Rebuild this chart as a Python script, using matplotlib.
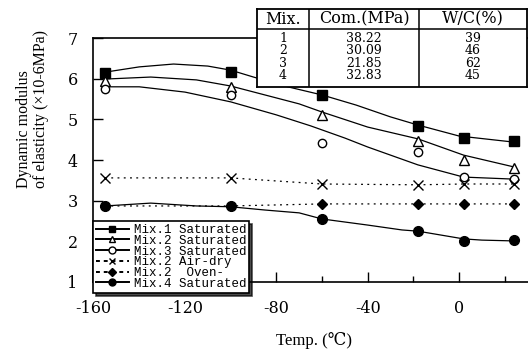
import matplotlib
matplotlib.use("Agg")
import matplotlib.pyplot as plt
from matplotlib.lines import Line2D

plt.rcParams['axes.unicode_minus'] = False

# measured points (temperature in C, modulus)
temps = [-155, -100, -60, -18, 2, 24]
mix1_sat = [6.14, 6.16, 5.60, 4.84, 4.54, 4.47]
mix2_sat = [5.94, 5.80, 5.11, 4.47, 4.00, 3.80]
mix3_sat = [5.75, 5.60, 4.42, 4.20, 3.58, 3.53]
mix2_air = [3.56, 3.56, 3.41, 3.39, 3.41, 3.41]
mix2_oven = [2.87, 2.87, 2.92, 2.92, 2.92, 2.92]
mix4_sat = [2.87, 2.87, 2.55, 2.25, 2.01, 2.03]

# fitted curves
c1_t = [-155, -140, -125, -110, -100, -90, -75, -60, -45, -30, -18, 0, 24]
c1_v = [6.16, 6.29, 6.36, 6.31, 6.21, 6.04, 5.80, 5.60, 5.35, 5.06, 4.86, 4.59, 4.44]
c2_t = [-155, -135, -115, -100, -85, -70, -60, -40, -18, 2, 24]
c2_v = [5.99, 6.04, 5.97, 5.82, 5.60, 5.38, 5.18, 4.81, 4.52, 4.12, 3.83]
c3_t = [-155, -140, -120, -100, -80, -65, -50, -40, -18, 2, 24]
c3_v = [5.80, 5.80, 5.67, 5.43, 5.11, 4.84, 4.54, 4.32, 3.88, 3.58, 3.53]
c4_t = [-155, -135, -115, -100, -85, -70, -60, -40, -25, -18, 2, 10, 24]
c4_v = [2.87, 2.94, 2.87, 2.85, 2.77, 2.70, 2.55, 2.40, 2.28, 2.25, 2.06, 2.03, 2.01]

# table
mix_ids = ['1', '2', '3', '4']
strength = ['38.22', '30.09', '21.85', '32.83']
wc_ratio = ['39', '46', '62', '45']

fig = plt.figure(figsize=(5.28, 3.51), dpi=100)
ax = fig.add_axes([0.176, 0.1966, 0.824, 0.6951])

lw = 0.9
ax.plot(c1_t, c1_v, color='black', lw=lw)
ax.plot(c2_t, c2_v, color='black', lw=lw)
ax.plot(c3_t, c3_v, color='black', lw=lw)
ax.plot(c4_t, c4_v, color='black', lw=lw)
dots = (0, (1.5, 3.5))
ax.plot(temps, mix2_air, color='black', lw=lw, ls=dots)
ax.plot(temps, mix2_oven, color='black', lw=lw, ls=dots)

ax.plot(temps, mix1_sat, 's', color='black', ms=6.5, ls='none')
ax.plot(temps, mix2_sat, '^', mfc='white', mec='black', ms=6.5, mew=1, ls='none')
ax.plot(temps, mix3_sat, 'o', mfc='white', mec='black', ms=6, mew=1, ls='none')
ax.plot(temps, mix2_air, 'x', color='black', ms=7, mew=1, ls='none')
ax.plot(temps, mix2_oven, 'D', color='black', ms=5, ls='none')
ax.plot(temps, mix4_sat, 'o', color='black', ms=7, ls='none')

ax.set_xlim(-160.3, 30.2)
ax.set_ylim(1, 7)
ax.set_xticks([-160, -120, -80, -40, 0])
ax.set_xticks([-140, -100, -60, -20, 20], minor=True)
ax.set_yticks([1, 2, 3, 4, 5, 6, 7])
ax.tick_params(which='major', direction='in', length=7, width=1, labelsize=11.5)
ax.tick_params(axis='x', which='major', pad=13)
ax.tick_params(axis='y', which='major', pad=11)
ax.tick_params(which='minor', direction='in', length=4, width=1)
for lab in ax.get_xticklabels() + ax.get_yticklabels():
    lab.set_family('DejaVu Serif')
ax.spines['right'].set_visible(False)
for s in ['left', 'top', 'bottom']:
    ax.spines[s].set_linewidth(1.2)

hl = 1.4
handles = [
    Line2D([], [], color='black', lw=hl, marker='s', ms=5),
    Line2D([], [], color='black', lw=hl, marker='^', mfc='white', ms=5),
    Line2D([], [], color='black', lw=hl, marker='o', mfc='white', ms=5),
    Line2D([], [], color='black', lw=hl, ls=(0, (2, 2)), marker='x', ms=5),
    Line2D([], [], color='black', lw=hl, ls=(0, (2, 2)), marker='D', ms=4),
    Line2D([], [], color='black', lw=hl, marker='o', ms=5),
]
labels = ['Mix.1 Saturated', 'Mix.2 Saturated', 'Mix.3 Saturated',
          'Mix.2 Air-dry', 'Mix.2  Oven-', 'Mix.4 Saturated']
leg = ax.legend(handles, labels, loc='lower left', bbox_to_anchor=(0.0, -0.045),
                borderaxespad=0, prop={'family': 'Liberation Mono', 'size': 9},
                labelspacing=-0.1, handlelength=2.6, handletextpad=0.4,
                borderpad=0.25, fancybox=False, shadow={'color': 'black', 'alpha': 0.7},
                edgecolor='black', framealpha=1)
leg.get_frame().set_linewidth(1.2)
leg.set_zorder(10)

fig.text(0.062, 0.464, 'Dynamic modulus\nof elasticity (\u00d710-6MPa)',
         rotation=90, ha='center', va='bottom', multialignment='left',
         family='Liberation Serif', fontsize=11.5, linespacing=1.05)
fig.text(0.595, 0.031, 'Temp. (\u2103)', ha='center', va='center',
         family=['Liberation Serif', 'DejaVu Serif'], fontsize=12)

# table box
tax = fig.add_axes([0.487, 0.752, 0.511, 0.222], zorder=20)
tax.set_xlim(0, 1)
tax.set_ylim(0, 1)
tax.set_xticks([])
tax.set_yticks([])
for s in tax.spines.values():
    s.set_linewidth(1.3)
tax.axhline(0.744, color='black', lw=1.1)
tax.axvline(0.193, color='black', lw=1.1)
tax.axvline(0.6, color='black', lw=1.1)
cols = [0.096, 0.396, 0.8]
for x, h in zip(cols, ['Mix.', 'Com.(MPa)', 'W/C(%)']):
    tax.text(x, 0.872, h, ha='center', va='center', family='DejaVu Serif', fontsize=11.5)
row_y = [0.628, 0.474, 0.308, 0.154]
for y, a, b, c in zip(row_y, mix_ids, strength, wc_ratio):
    for x, t in zip(cols, [a, b, c]):
        tax.text(x, y, t, ha='center', va='center', family='DejaVu Serif', fontsize=9)

fig.savefig('out.png', dpi=100)
